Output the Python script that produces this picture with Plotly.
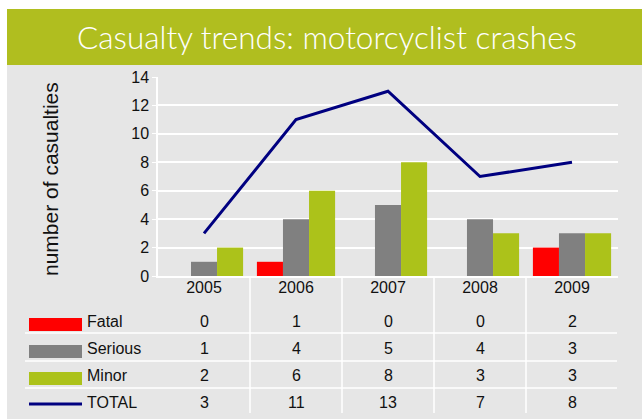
import plotly.graph_objects as go

W, H = 642, 419

years = ["2005", "2006", "2007", "2008", "2009"]
fatal = [0, 1, 0, 0, 2]
serious = [1, 4, 5, 4, 3]
minor = [2, 6, 8, 3, 3]
total = [3, 11, 13, 7, 8]

series_names = ["Fatal", "Serious", "Minor", "TOTAL"]
y_ticks = [0, 2, 4, 6, 8, 10, 12, 14]

RED = "#ff0000"
GREY = "#808080"
GREEN = "#acc21a"
NAVY = "#000080"
BANNER = "#b0be1f"
BG = "#e6e6e6"
FONT = "Liberation Sans, Arial, sans-serif"


def px(x):
    return x / W


def py(y):
    return 1 - y / H


fig = go.Figure()
fig.add_bar(x=years, y=fatal, name="Fatal", marker=dict(color=RED, line=dict(width=0)))
fig.add_bar(x=years, y=serious, name="Serious", marker=dict(color=GREY, line=dict(width=0)))
fig.add_bar(x=years, y=minor, name="Minor", marker=dict(color=GREEN, line=dict(width=0)))
fig.add_scatter(x=years, y=total, name="TOTAL", mode="lines",
                line=dict(color=NAVY, width=3))

shapes = []
shapes.append(dict(type="rect", xref="paper", yref="paper", x0=px(7), x1=1, y0=0, y1=py(65),
                   fillcolor=BG, line=dict(width=0), layer="below"))
shapes.append(dict(type="rect", xref="paper", yref="paper", x0=px(7), x1=1, y0=py(65), y1=py(9),
                   fillcolor=BANNER, line=dict(width=0), layer="below"))
for yy in [333, 361, 388]:
    shapes.append(dict(type="line", xref="paper", yref="paper", x0=px(25), x1=px(617),
                       y0=py(yy), y1=py(yy), line=dict(color="white", width=1.5)))
for i in range(len(years) - 1):
    shapes.append(dict(type="line", xref="x", yref="paper", x0=i + 0.5, x1=i + 0.5,
                       y0=py(276), y1=py(413), line=dict(color="white", width=1.5)))

sw_rows = [(318, 331, RED), (345, 358, GREY), (372, 385, GREEN)]
for y0, y1, c in sw_rows:
    shapes.append(dict(type="rect", xref="paper", yref="paper", x0=px(29), x1=px(82),
                       y0=py(y1), y1=py(y0), fillcolor=c, line=dict(width=0)))
shapes.append(dict(type="line", xref="paper", yref="paper", x0=px(29), x1=px(82),
                   y0=py(404), y1=py(404), line=dict(color=NAVY, width=3)))

annotations = []
annotations.append(dict(text="Casualty trends: motorcyclist crashes", xref="paper", yref="paper",
                        x=px(327), y=py(37), xanchor="center", yanchor="middle", showarrow=False,
                        font=dict(family="Lato, Open Sans, sans-serif", size=31.5, color="white", weight=300)))
annotations.append(dict(text="number of casualties", xref="paper", yref="paper", x=px(50), y=py(179),
                        xanchor="center", yanchor="middle", textangle=-90, showarrow=False,
                        font=dict(family=FONT, size=21, color="#111111")))

row_y = [321, 348, 375, 402]
row_vals = [fatal, serious, minor, total]
for name, yy, vals in zip(series_names, row_y, row_vals):
    annotations.append(dict(text=name, xref="paper", yref="paper", x=px(85), y=py(yy),
                            xanchor="left", yanchor="middle", showarrow=False,
                            font=dict(family=FONT, size=16, color="#111111")))
    for i, v in enumerate(vals):
        annotations.append(dict(text=str(v), xref="x", yref="paper", x=i, y=py(yy),
                                xanchor="center", yanchor="middle", showarrow=False,
                                font=dict(family=FONT, size=16, color="#111111")))

fig.update_layout(
    width=W, height=H,
    margin=dict(l=0, r=0, t=0, b=0, pad=0, autoexpand=False),
    paper_bgcolor="white",
    plot_bgcolor="rgba(0,0,0,0)",
    barmode="group", bargap=0.15, bargroupgap=0,
    showlegend=False,
    shapes=shapes,
    annotations=annotations,
    font=dict(family=FONT, color="#111111"),
    xaxis=dict(domain=[px(158), px(618)], type="category", showgrid=False, automargin=False,
               range=[-0.5, len(years) - 0.5], autorange=False,
               showline=True, linecolor="white", linewidth=1.5,
               tickfont=dict(family=FONT, size=16, color="#111111"),
               ticks="", ticklabelstandoff=-4),
    yaxis=dict(domain=[py(276), py(77)], range=[0, 14], tickvals=y_ticks, automargin=False,
               showgrid=True, gridcolor="white", gridwidth=1.5,
               zeroline=False, showline=True, linecolor="white", linewidth=1.5,
               ticks="outside", ticklen=4, tickcolor="white",
               tickfont=dict(family=FONT, size=16, color="#111111")),
)

fig.write_html(
    "out.html",
    config={"displayModeBar": False},
    post_script="document.body.style.margin='0';document.body.style.padding='0';"
                "document.body.style.overflow='hidden';",
)
